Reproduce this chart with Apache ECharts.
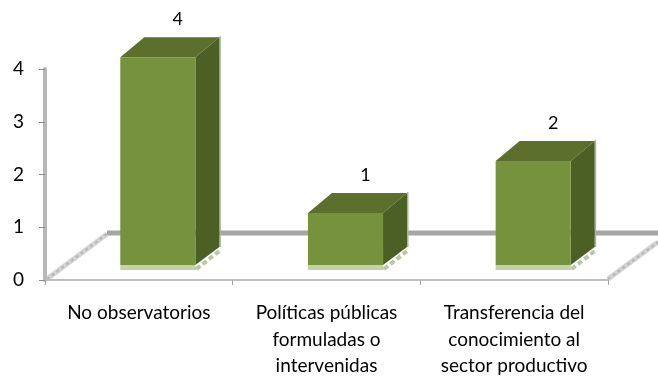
<!DOCTYPE html>
<html><head><meta charset="utf-8">
<style>html,body{margin:0;padding:0;background:#fff}#c{width:658px;height:376px}</style>
<script src="https://cdn.jsdelivr.net/npm/echarts@6/dist/echarts.min.js"></script>
</head><body><div id="c"></div>
<script>
const categories = ['No observatorios', 'Políticas públicas\nformuladas o\nintervenidas', 'Transferencia del\nconocimiento al\nsector productivo'];
const values = [4, 1, 2];
const yTicks = [0, 1, 2, 3, 4];

const FONT = 'Lato';
const chart = echarts.init(document.getElementById('c'), null, {renderer: 'canvas'});
const DX = 24, DY = 20, SHIFT_X = 19, SHIFT_Y = 15, K = 0.985;

function renderBar(params, api) {
  const i = api.value(0), v = api.value(1);
  const p0 = api.coord([i, 0]), pv = api.coord([i, v]);
  const w = api.size([1, 0])[0] * 0.4;
  const x0 = p0[0] + SHIFT_X - w / 2, x1 = x0 + w;
  const yb = p0[1] - SHIFT_Y, yt = yb - (p0[1] - pv[1]) * K;
  const poly = (pts, fill) => ({type: 'polygon', shape: {points: pts}, style: {fill}});
  return {type: 'group', children: [
    {type: 'line', shape: {x1: x1 + 1, y1: yb + 4, x2: x1 + DX, y2: yb + 4 - DY + 2},
      style: {stroke: '#b9c8a0', lineWidth: 4, lineDash: [5, 3]}},
    poly([[x1 + DX, yt - DY - 1], [x1 + DX + 1.5, yt - DY - 1], [x1 + DX + 1.5, yb - DY + 2], [x1 + DX, yb - DY + 2]], '#a9b98f'),
    poly([[x0, yb], [x1, yb], [x1 + 1, yb + 5], [x0, yb + 5]], '#c3d3a8'),
    poly([[x0, yt], [x1, yt], [x1 + DX, yt - DY], [x0 + DX, yt - DY]], '#5c6f2c'),
    poly([[x1, yt], [x1 + DX, yt - DY], [x1 + DX, yb - DY + 2], [x1, yb]], '#4c5f25'),
    poly([[x0, yt], [x1, yt], [x1, yb], [x0, yb]], '#76923c'),
    {type: 'text', style: {text: String(v), x: (x0 + x1) / 2 + 20, y: yt - DY - 18,
      fill: '#000', font: '18px ' + FONT, textAlign: 'center', textVerticalAlign: 'middle'}}
  ]};
}

chart.setOption({
  animation: false,
  backgroundColor: '#fff',
  grid: {left: 45, right: 50, top: 69, bottom: 96, outerBoundsMode: 'none'},
  xAxis: {type: 'category', data: categories,
    axisLine: {lineStyle: {color: '#bdbdbd', width: 2}},
    axisTick: {show: true, length: 5, lineStyle: {color: '#a6a6a6', width: 1}},
    axisLabel: {color: '#000', fontFamily: FONT, fontSize: 19, lineHeight: 26.5, margin: 20, interval: 0}},
  yAxis: {type: 'value', min: yTicks[0], max: yTicks[yTicks.length - 1], interval: 1,
    splitLine: {show: false},
    axisLine: {show: true, lineStyle: {color: '#b8b8b8', width: 4}},
    axisTick: {show: true, length: 6, lineStyle: {color: '#8c8c8c', width: 1}},
    axisLabel: {color: '#000', fontFamily: FONT, fontSize: 19, margin: 21}},
  graphic: [
    {type: 'line', z: 0, shape: {x1: 107, y1: 233, x2: 658, y2: 233}, style: {stroke: '#a6a6a6', lineWidth: 5}},
    {type: 'line', z: 0, shape: {x1: 47, y1: 279, x2: 107, y2: 234}, style: {stroke: '#d4d4d4', lineWidth: 5}},
    {type: 'line', z: 0, shape: {x1: 47, y1: 279, x2: 107, y2: 234}, style: {stroke: '#b4b4b4', lineWidth: 2, lineDash: [3, 3]}},
    {type: 'line', z: 0, shape: {x1: 608, y1: 279, x2: 658, y2: 242}, style: {stroke: '#d4d4d4', lineWidth: 5}},
    {type: 'line', z: 0, shape: {x1: 608, y1: 279, x2: 658, y2: 242}, style: {stroke: '#b4b4b4', lineWidth: 2, lineDash: [3, 3]}}
  ],
  series: [{type: 'custom', renderItem: renderBar, coordinateSystem: 'cartesian2d',
    encode: {x: 0, y: 1}, data: values.map((v, i) => [i, v]), clip: false, z: 5}]
});
</script></body></html>
